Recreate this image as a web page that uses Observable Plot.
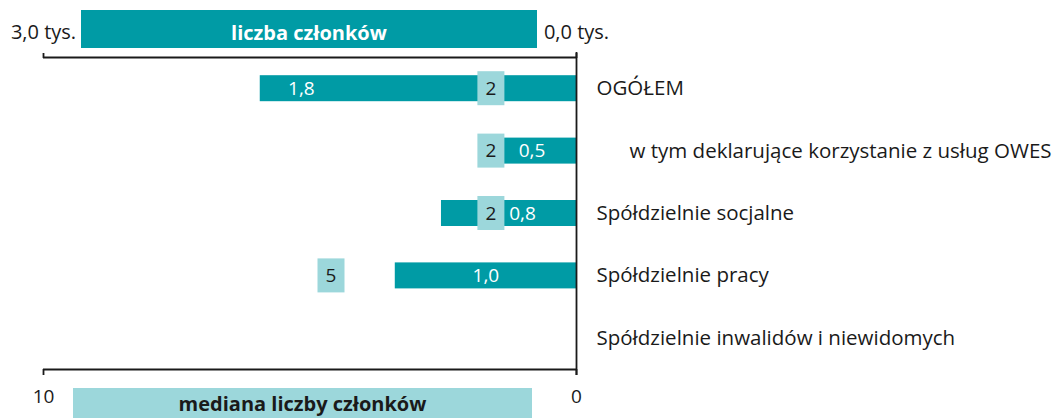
<!DOCTYPE html>
<html>
<head>
<meta charset="utf-8">
<script src="https://cdn.jsdelivr.net/npm/d3@7"></script>
<script src="https://cdn.jsdelivr.net/npm/@observablehq/plot@0.6"></script>
<style>
  body { margin: 0; background: #fff; font-family: 'Open Sans', sans-serif; }
  #wrap { position: relative; width: 1062px; height: 418px; overflow: hidden; }
  #wrap svg { position: absolute; left: 0; top: 0; }
  .lg { position: absolute; font-weight: bold; font-size: 20px; text-align: center; overflow: hidden; white-space: nowrap; }
</style>
</head>
<body>
<div id="wrap">
  <div class="lg" style="left:81px;top:10px;width:456px;height:38px;line-height:45px;background:#009BA5;color:#fff">liczba członków</div>
  <div class="lg" style="left:73px;top:388px;width:459px;height:30px;line-height:32px;background:#9CD7DB;color:#1a1a1a">mediana liczby członków</div>
</div>
<script>
// ---- data ----
const categories = [
  "OGÓŁEM",
  "w tym deklarujące korzystanie z usług OWES",
  "Spółdzielnie socjalne",
  "Spółdzielnie pracy",
  "Spółdzielnie inwalidów i niewidomych"
];
const members = [1.78, 0.5, 0.76, 1.02, null];   // liczba członków, tys.
const medians = [2, 2, 2, 5, null];              // mediana liczby członków
const indented = [false, true, false, false, false];
const topTicks = [0, 3];      // tys.
const bottomTicks = [0, 10];  // mediana

// ---- layout / style ----
const TEAL = "#009BA5";
const LIGHT = "#9CD7DB";
const INK = "#1a1a1a";
const labelAt = [0.87, 0.5, 0.4, 0.5, 0.5]; // where in the bar the value label sits
const k = topTicks[1] / bottomTicks[1];     // median scale -> member scale

const rows = categories.map((name, i) => ({
  i, name, members: members[i], median: medians[i], indent: indented[i], labelAt: labelAt[i]
}));
const withBar = rows.filter(d => d.members != null);
const withMed = rows.filter(d => d.median != null);
const fmt = v => v.toFixed(1).replace(".", ",");

const chart = Plot.plot({
  width: 1062,
  height: 418,
  marginLeft: 43,
  marginRight: 486,
  marginTop: 57,
  marginBottom: 49,
  style: { fontFamily: "'Open Sans', sans-serif", fontSize: "20px", color: INK, background: "transparent" },
  x: { domain: [0, 3], reverse: true, label: null },
  y: { domain: [rows.length - 0.5, -0.5], axis: null },
  marks: [
    Plot.rect(withBar, {
      x1: 0, x2: "members", y1: d => d.i - 0.5, y2: d => d.i + 0.5,
      insetTop: 18.2, insetBottom: 18.2, fill: TEAL
    }),
    Plot.text(withBar, {
      x: d => d.members * d.labelAt, y: "i", text: d => fmt(d.members),
      fill: "white", fontSize: 19
    }),
    Plot.rect(withMed, {
      x1: d => d.median * k, x2: d => d.median * k, y1: d => d.i - 0.5, y2: d => d.i + 0.5,
      insetTop: 14.2, insetBottom: 14.2, insetLeft: 8, insetRight: -35, fill: LIGHT
    }),
    Plot.text(withMed, {
      x: d => d.median * k, y: "i", dx: 21, text: d => String(d.median),
      fill: INK, fontSize: 19
    }),
    Plot.text(rows.filter(d => !d.indent), {
      x: 0, y: "i", dx: 20, text: "name", textAnchor: "start", fill: INK, fontSize: 20.5
    }),
    Plot.text(rows.filter(d => d.indent), {
      x: 0, y: "i", dx: 53, text: "name", textAnchor: "start", fill: INK, fontSize: 20.5
    }),
    Plot.ruleY([-0.5, rows.length - 0.5], { stroke: INK, strokeWidth: 1.8 }),
    Plot.ruleX([0], { stroke: INK, strokeWidth: 1.8, insetTop: -5, insetBottom: -6 }),
    Plot.axisX({
      anchor: "top", ticks: topTicks, tickSize: 5, tickPadding: 14,
      tickFormat: d => fmt(d) + " tys.", fontSize: 20, stroke: INK, strokeWidth: 1.8, label: null
    }),
    Plot.axisX({
      anchor: "bottom", ticks: bottomTicks.map(v => v * k), tickSize: 6, tickPadding: 14,
      tickFormat: v => String(Math.round(v / k)), fontSize: 19, stroke: INK, strokeWidth: 1.8, label: null
    })
  ]
});
document.getElementById("wrap").prepend(chart);
</script>
</body>
</html>
